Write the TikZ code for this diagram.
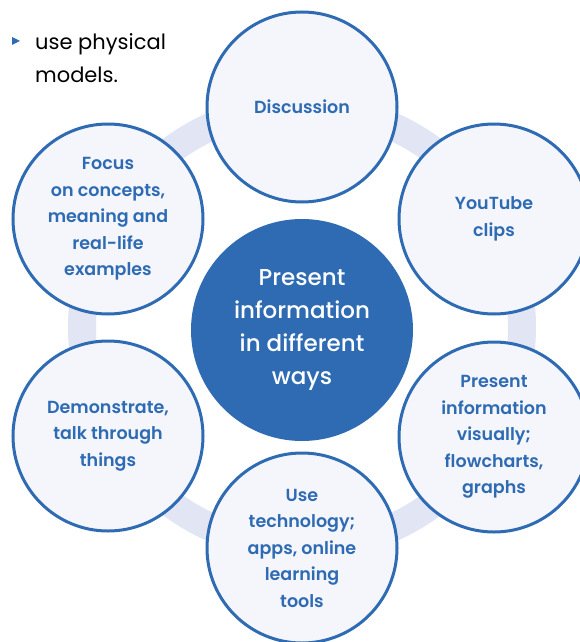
\documentclass[tikz,border=0pt]{standalone}
\usepackage{fontspec}
\setmainfont{Poppins}
\newfontfamily\labelfont{Poppins SemiBold}
\newfontfamily\hubfont{Poppins Medium}
\definecolor{deepblue}{HTML}{2E6BB3}
\definecolor{paleblue}{HTML}{F4F6FC}
\definecolor{ringgrey}{HTML}{E2E6F4}

\begin{document}
\begin{tikzpicture}[x=1pt,y=-1pt,
  idea/.style={circle,draw=deepblue,line width=3pt,fill=paleblue,minimum size=190pt,inner sep=0pt,text=deepblue,align=center,font=\labelfont\fontsize{17.5}{26.5}\selectfont},
  hub/.style={circle,fill=deepblue,minimum size=222pt,inner sep=0pt,text=white,align=center,font=\hubfont\fontsize{23}{33}\selectfont}]

\useasboundingbox (0,0) rectangle (580,642);

\coordinate (mid) at (302,327);

% the pale ring behind the circles
\draw[ringgrey,line width=28pt] (mid) circle (220pt);

\node[hub] (hub) at ([yshift=-3pt]mid) {Present\\information\\in different\\ways};

\node[idea] (disc) at (302,107) {Discussion};
\node[idea] (tube) at (494,219) {YouTube\\clips};
\node[idea] (visual) at (494,437) {Present\\information\\visually;\\flowcharts,\\graphs};
\node[idea] (tech) at (302,548) {Use\\technology;\\apps, online\\learning\\tools};
\node[idea] (demo) at (108,436) {Demonstrate,\\talk through\\things};
\node[idea] (focus) at (108,219) {Focus\\on concepts,\\meaning and\\real-life\\examples};

% bullet point
\fill[deepblue] (12,37) -- (20,41) -- (12,45) -- cycle;
\node[anchor=base west,inner sep=0pt,align=left,font=\fontsize{21}{33}\selectfont] (tip) at (35,82) {use physical\\models.};

\end{tikzpicture}
\end{document}
